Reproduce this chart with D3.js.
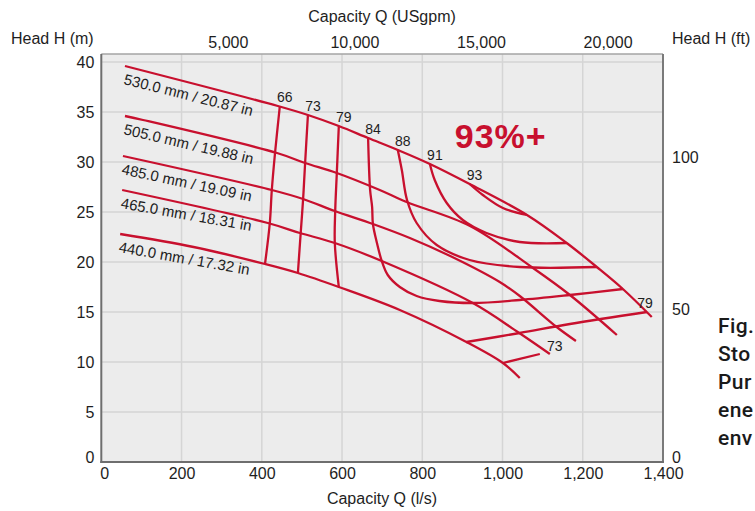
<!DOCTYPE html>
<html><head><meta charset="utf-8">
<script src="https://cdn.jsdelivr.net/npm/d3@7"></script>
<style>
html,body{margin:0;padding:0;background:#fff;overflow:hidden;}
text{font-family:"Liberation Sans",Arial,Helvetica,sans-serif;fill:#1e1e1e;}
</style></head>
<body><svg id="c" width="755" height="511"></svg>
<script>
// ---- data ----
const xTicksLs = [0,200,400,600,800,1000,1200,1400];
const xTicksGpm = [5000,10000,15000,20000];
const yTicksM = [0,5,10,15,20,25,30,35,40];
const yTicksFt = [0,50,100];

const diameterLabels = ["530.0 mm / 20.87 in","505.0 mm / 19.88 in","485.0 mm / 19.09 in","465.0 mm / 18.31 in","440.0 mm / 17.32 in"];
const labelAngles = [14,13.2,12,10,10];

const head530 = [[59,39.6],[440,35.6],[515,34.7],[592,33.6],[665,32.4],[739,31.2],[819,29.8],[918,27.8],[1061,24.7],[1160,21.9],[1235,19.5],[1300,17.3],[1372,14.5]];
const head505 = [[59,34.6],[104,34.2],[438,30.9],[508,29.9],[587,28.9],[694,27.2],[761,26.0],[919,23.6],[1076,19.4],[1168,16.7],[1285,12.7]];
const head485 = [[54,30.6],[425,27.2],[503,26.3],[582,25.1],[677,23.8],[769,22.4],[880,20.4],[993,18.0],[1043,16.6],[1135,13.5],[1183,12.1]];
const head465 = [[52,27.2],[415,23.9],[495,22.9],[582,21.9],[699,20.1],[926,15.9],[1038,13.0],[1118,10.8]];
const head440 = [[47,22.8],[230,21.5],[408,19.8],[490,18.9],[592,17.5],[744,15.2],[910,12.0],[1001,9.9],[1043,8.4]];

const eff66 = [[445,35.6],[433,30.9],[425,27.2],[420,23.9],[408,19.8]];
const eff73 = [[515,34.7],[508,29.9],[503,26.3],[497,22.9],[490,18.9]];
const eff79 = [[592,33.6],[587,28.9],[583,25.1],[582,21.9],[592,17.5]];
const eff84 = [[665,32.4],[670,27.2],[675,25.5],[677,23.8],[687,21.9],[699,20.1],[714,18.7],[744,17.5],[786,16.6],[843,16.1],[926,15.9],[1043,16.2],[1168,16.7],[1300,17.3]];
const eff88 = [[739,31.2],[749,29.2],[762,26.2],[786,23.9],[836,21.7],[918,20.2],[1043,19.5],[1235,19.5]];
const eff91 = [[819,29.8],[831,28.2],[861,25.9],[901,24.2],[960,22.9],[1043,22.0],[1160,21.9]];
const eff93 = [[918,27.8],[951,26.7],[1001,25.4],[1061,24.7]];
const eff79b = [[910,12.0],[1043,12.9],[1168,13.8],[1360,15.0]];
const eff73b = [[1001,9.9],[1093,10.8]];

const topEffLabels = ["66","73","79","84","88","91","93"];
const captionLines = ["Fig.","Sto","Pur","ene","env"];

// ---- chart ----
const RED = "#c8102e";
const svg = d3.select("#c");
const L=101.3, R=663, T=54, B=462;
const x = d3.scaleLinear().domain([0,1400]).range([L,R]);
const y = d3.scaleLinear().domain([0,40.8]).range([B,T]);
const xG = d3.scaleLinear().domain([0,1400*15.850]).range([L,R]);
const yF = d3.scaleLinear().domain([0,40.8/0.3048]).range([B,T]);

svg.append("rect").attr("x",L).attr("y",T).attr("width",R-L).attr("height",B-T).attr("fill","#ececec");

// grid
svg.append("g").selectAll("line").data(xTicksLs.slice(1,-1)).join("line")
  .attr("x1",d=>x(d)).attr("x2",d=>x(d)).attr("y1",T).attr("y2",B)
  .attr("stroke","#d5d5d5").attr("stroke-width",1.5);
svg.append("g").selectAll("line").data(yTicksM.slice(1)).join("line")
  .attr("y1",d=>y(d)).attr("y2",d=>y(d)).attr("x1",L).attr("x2",R)
  .attr("stroke","#d5d5d5").attr("stroke-width",1.5);

// frame
svg.append("line").attr("x1",L).attr("x2",R).attr("y1",T).attr("y2",T).attr("stroke","#a5a5a5").attr("stroke-width",1.5);
svg.append("line").attr("x1",R).attr("x2",R).attr("y1",T).attr("y2",B).attr("stroke","#7a7a7a").attr("stroke-width",2);
svg.append("line").attr("x1",L).attr("x2",L).attr("y1",T).attr("y2",B+1).attr("stroke","#6e6e6e").attr("stroke-width",2);
svg.append("line").attr("x1",L-1).attr("x2",R+1).attr("y1",B).attr("y2",B).attr("stroke","#6e6e6e").attr("stroke-width",2);

const fs = "16px";
function styleAxis(g){ g.select(".domain").remove(); g.selectAll("text").attr("font-size",fs).attr("fill","#1e1e1e").attr("font-family","'Liberation Sans',Arial,sans-serif"); }

const gB = svg.append("g").attr("transform",`translate(0,${B})`)
  .call(d3.axisBottom(x).tickValues(xTicksLs).tickSize(0).tickPadding(6).tickFormat(d3.format(","))).call(styleAxis);
gB.selectAll(".tick").filter(d=>d===0).select("text").attr("dx",3);
const gL = svg.append("g").attr("transform",`translate(${L},0)`)
  .call(d3.axisLeft(y).tickValues(yTicksM).tickSize(0).tickPadding(7)).call(styleAxis);
gL.selectAll(".tick").filter(d=>d===0).select("text").attr("dy","0.0em");
const gR = svg.append("g").attr("transform",`translate(${R},0)`)
  .call(d3.axisRight(yF).tickValues(yTicksFt).tickSize(0).tickPadding(9)).call(styleAxis);
gR.selectAll(".tick").filter(d=>d===0).select("text").attr("dy","0.0em");
svg.append("g").attr("transform",`translate(0,${T})`)
  .call(d3.axisTop(xG).tickValues(xTicksGpm).tickSize(0).tickPadding(6).tickFormat(d3.format(","))).call(styleAxis);

// titles
svg.append("text").attr("x",382).attr("y",22).attr("text-anchor","middle").attr("font-size",fs).text("Capacity Q (USgpm)");
svg.append("text").attr("x",382).attr("y",504).attr("text-anchor","middle").attr("font-size",fs).text("Capacity Q (l/s)");
svg.append("text").attr("x",11).attr("y",44).attr("font-size",fs).text("Head H (m)");
svg.append("text").attr("x",672).attr("y",44).attr("font-size",fs).text("Head H (ft)");

// curves
const line = d3.line().x(d=>x(d[0])).y(d=>y(d[1])).curve(d3.curveCatmullRom.alpha(0.5));
const heads = [head530,head505,head485,head465,head440];
const effs = [eff66,eff73,eff79,eff84,eff88,eff91,eff93,eff79b,eff73b];
const cg = svg.append("g").attr("fill","none").attr("stroke",RED).attr("stroke-width",2.3).attr("stroke-linecap","butt");
cg.selectAll("path.h").data(heads).join("path").attr("class","h").attr("d",line);
cg.selectAll("path.e").data(effs).join("path").attr("class","e").attr("d",line);

// diameter labels
heads.forEach((h,i)=>{
  const px = x(h[0][0])-2, py = y(h[0][1])+18;
  svg.append("text").attr("transform",`translate(${px},${py}) rotate(${labelAngles[i]})`)
    .attr("font-size","15px").text(diameterLabels[i]);
});

// efficiency labels
effs.slice(0,7).forEach((e,i)=>{
  svg.append("text").attr("x",x(e[0][0])+5).attr("y",y(e[0][1])-4)
    .attr("text-anchor","middle").attr("font-size","14px").text(topEffLabels[i]);
});
svg.append("text").attr("x",x(eff79b[eff79b.length-1][0])-2).attr("y",y(eff79b[eff79b.length-1][1])-4)
  .attr("text-anchor","middle").attr("font-size","14px").text("79");
svg.append("text").attr("x",x(eff73b[1][0])+15).attr("y",y(eff73b[1][1])-3)
  .attr("text-anchor","middle").attr("font-size","14px").text("73");

svg.append("text").attr("x",x(881)).attr("y",y(31.4)).attr("font-size","34px").attr("font-weight","bold")
  .attr("letter-spacing","1px").style("fill",RED).text("93%+");

// caption (only its visible start is shown, as in the reference)
captionLines.forEach((t,i)=>{
  svg.append("text").attr("x",718).attr("y",333+i*28).attr("font-size","21px").attr("font-weight","500")
    .attr("letter-spacing","0.4px")
    .style("font-family","Roboto,'Liberation Sans',Arial,sans-serif")
    .style("fill","#1a1a1a").text(t);
});
</script></body></html>
